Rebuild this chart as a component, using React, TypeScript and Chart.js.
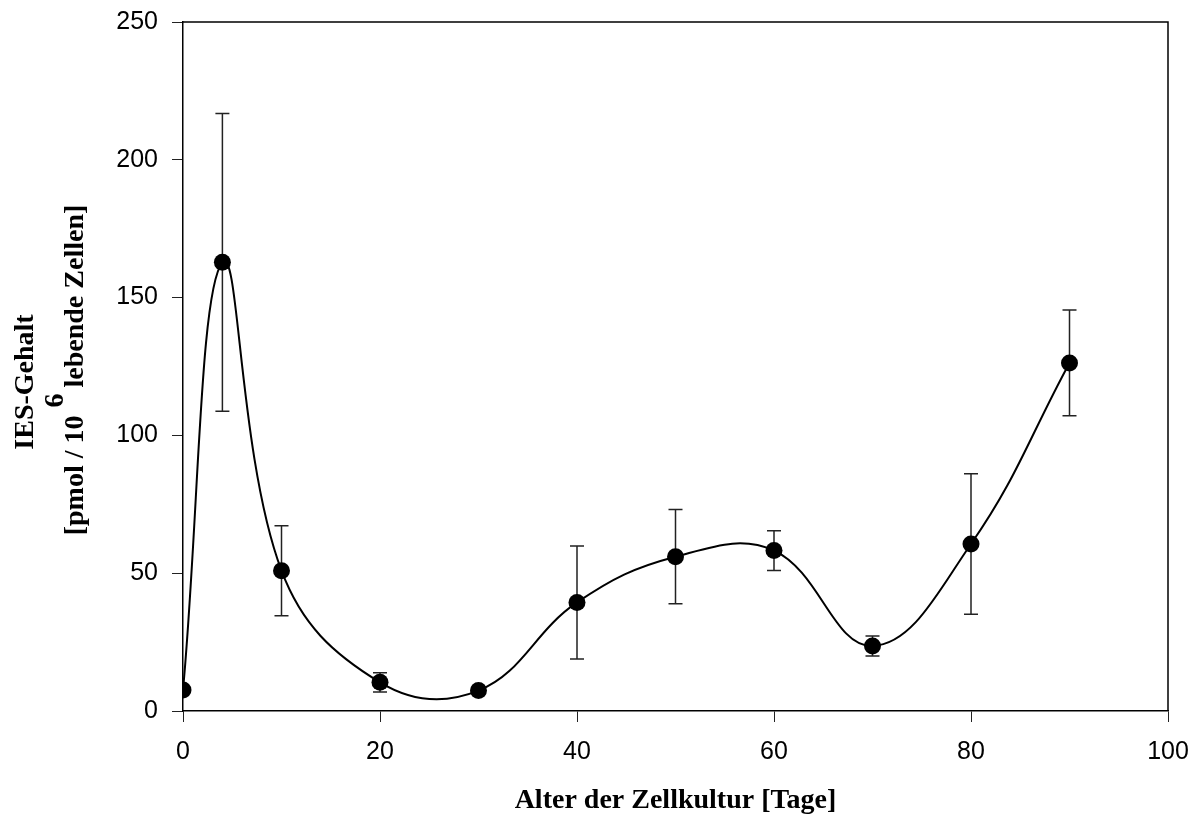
import React, { useEffect, useRef } from "react";
import { Chart, registerables } from "chart.js";

Chart.register(...registerables);

// ---- data ----
const days = [0, 4, 10, 20, 30, 40, 50, 60, 70, 80, 90];
const iesContent = [7.6, 162.8, 50.9, 10.4, 7.4, 39.4, 56.0, 58.2, 23.6, 60.6, 126.3];
const iesError = [0, 54, 16.3, 3.5, 0, 20.5, 17.1, 7.2, 3.6, 25.5, 19.2];
const xTicks = [0, 20, 40, 60, 80, 100];
const yTicks = [0, 50, 100, 150, 200, 250];
const xTitle = "Alter der Zellkultur [Tage]";
const yTitleLine1 = "IES-Gehalt";
const yTitleLine2a = "[pmol / 10";
const yTitleSup = "6";
const yTitleLine2b = "lebende Zellen]";

const TICK_FONT = "'Liberation Sans', Arial, sans-serif";
const TITLE_FONT = "bold 28px 'Liberation Serif', 'Times New Roman', serif";

const errorBarPlugin = {
  id: "errorBars",
  beforeDatasetsDraw(chart: any) {
    const { ctx, scales } = chart;
    const xs = scales.x;
    const ys = scales.y;
    ctx.save();
    ctx.strokeStyle = "#222";
    ctx.lineWidth = 1.5;
    for (let i = 0; i < days.length; i++) {
      const e = iesError[i];
      if (!e) continue;
      const px = xs.getPixelForValue(days[i]);
      const top = ys.getPixelForValue(iesContent[i] + e);
      const bot = ys.getPixelForValue(iesContent[i] - e);
      ctx.beginPath();
      ctx.moveTo(px, top);
      ctx.lineTo(px, bot);
      ctx.moveTo(px - 7, top);
      ctx.lineTo(px + 7, top);
      ctx.moveTo(px - 7, bot);
      ctx.lineTo(px + 7, bot);
      ctx.stroke();
    }
    ctx.restore();
  },
};

const framePlugin = {
  id: "frameTitles",
  afterDraw(chart: any) {
    const { ctx, chartArea } = chart;
    const { left, right, top, bottom } = chartArea;
    ctx.save();
    ctx.strokeStyle = "#000";
    ctx.lineWidth = 1.5;
    ctx.beginPath();
    ctx.moveTo(left, top);
    ctx.lineTo(right, top);
    ctx.lineTo(right, bottom);
    ctx.stroke();

    ctx.fillStyle = "#000";
    ctx.font = TITLE_FONT;
    // x title
    ctx.textAlign = "center";
    ctx.textBaseline = "alphabetic";
    ctx.fillText(xTitle, (left + right) / 2, 808);

    // y title line 1
    ctx.save();
    ctx.translate(33, 382);
    ctx.rotate(-Math.PI / 2);
    ctx.textAlign = "center";
    ctx.fillText(yTitleLine1, 0, 0);
    ctx.restore();

    // y title line 2 with superscript
    const wA = ctx.measureText(yTitleLine2a).width;
    const wB = ctx.measureText(yTitleLine2b).width;
    const supGap = 8;
    const restGap = 28;
    const total = wA + restGap + wB;
    ctx.save();
    ctx.translate(83, 370);
    ctx.rotate(-Math.PI / 2);
    ctx.textAlign = "left";
    const x0 = -total / 2;
    ctx.fillText(yTitleLine2a, x0, 0);
    ctx.fillText(yTitleSup, x0 + wA + supGap, -20);
    ctx.fillText(yTitleLine2b, x0 + wA + restGap, 0);
    ctx.restore();
    ctx.restore();
  },
};

export default function App() {
  const ref = useRef<HTMLCanvasElement | null>(null);
  useEffect(() => {
    if (!ref.current) return;
    const chart = new Chart(ref.current, {
      type: "line",
      data: {
        datasets: [
          {
            data: days.map((d, i) => ({ x: d, y: iesContent[i] })),
            borderColor: "#000",
            borderWidth: 2,
            tension: 0.4,
            pointRadius: 8.5,
            pointBackgroundColor: "#000",
            pointBorderWidth: 0,
            fill: false,
          },
        ],
      },
      options: {
        animation: false,
        responsive: true,
        maintainAspectRatio: false,
        layout: { padding: { top: 22, right: 30, left: 0, bottom: 0 } },
        plugins: { legend: { display: false }, tooltip: { enabled: false } },
        scales: {
          x: {
            type: "linear",
            min: 0,
            max: 100,
            afterBuildTicks: (s: any) => {
              s.ticks = xTicks.map((v) => ({ value: v }));
            },
            afterFit: (s: any) => {
              s.height = 107;
              s.paddingLeft = 0;
              s.paddingRight = 0;
            },
            ticks: {
              color: "#000",
              font: { family: TICK_FONT, size: 25 },
              padding: 15,
              maxRotation: 0,
            },
            grid: {
              display: true,
              drawOnChartArea: false,
              drawTicks: true,
              tickLength: 11,
              color: "#222",
              lineWidth: 1,
            },
            border: { display: true, color: "#000", width: 1.5 },
          },
          y: {
            type: "linear",
            min: 0,
            max: 250,
            afterBuildTicks: (s: any) => {
              s.ticks = yTicks.map((v) => ({ value: v }));
            },
            afterFit: (s: any) => {
              s.width = 183;
              s.paddingTop = 0;
              s.paddingBottom = 0;
            },
            ticks: {
              color: "#000",
              font: { family: TICK_FONT, size: 25 },
              padding: 14,
            },
            grid: {
              display: true,
              drawOnChartArea: false,
              drawTicks: true,
              tickLength: 11,
              color: "#222",
              lineWidth: 1,
            },
            border: { display: true, color: "#000", width: 1.5 },
          },
        },
      },
      plugins: [errorBarPlugin, framePlugin],
    } as any);
    return () => chart.destroy();
  }, []);
  return (
    <div style={{ position: "fixed", left: 0, top: 0, width: 1198, height: 818, background: "#fff" }}>
      <canvas ref={ref} />
    </div>
  );
}
